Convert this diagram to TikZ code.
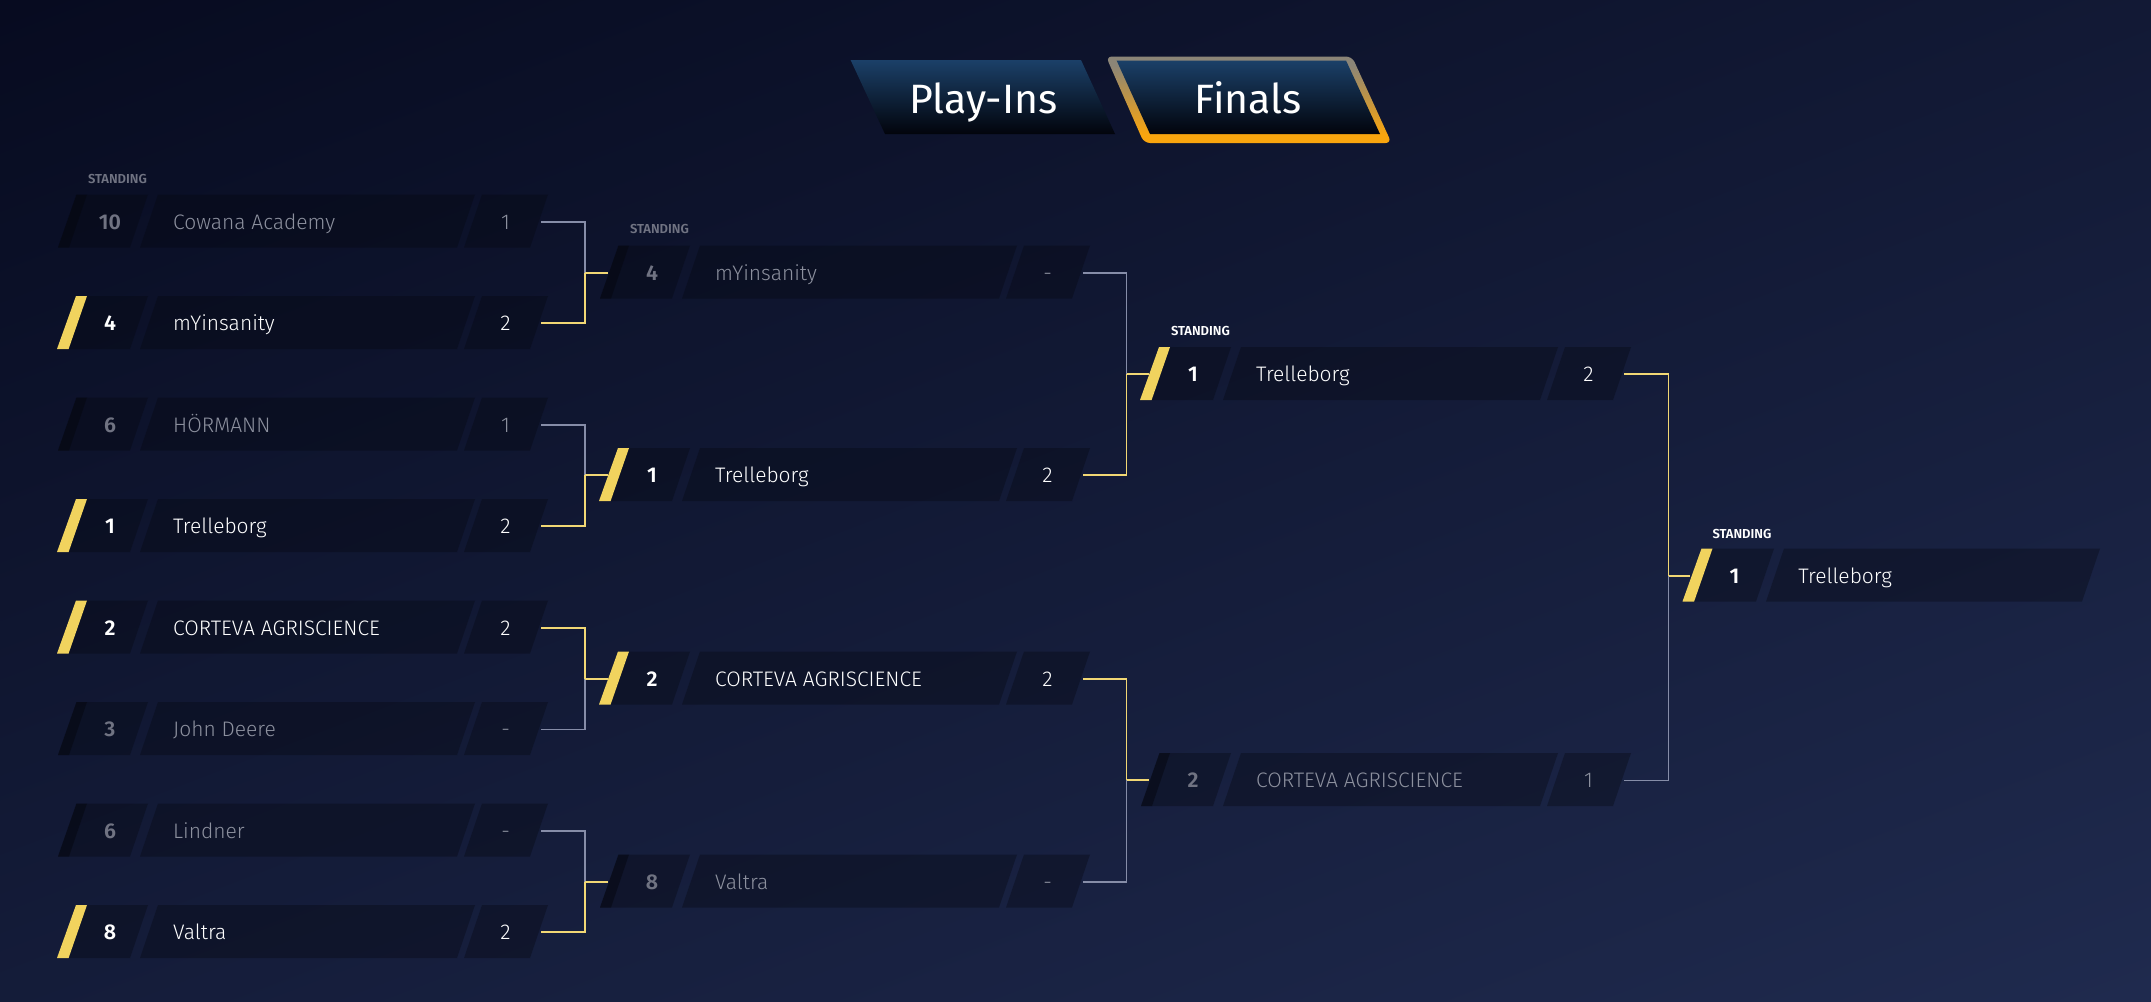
\documentclass[tikz,border=0pt]{standalone}
\usepackage{fontspec}
\setmainfont{Fira Sans Light}[BoldFont={Fira Sans SemiBold}]
\newfontfamily\tabfont{Fira Sans}
\definecolor{bgdark}{HTML}{070B20}
\definecolor{bglight}{HTML}{1F2A4E}
\definecolor{boxfill}{HTML}{05070F}
\definecolor{winbar}{HTML}{F1D35E}
\definecolor{winline}{HTML}{F1D774}
\definecolor{loseline}{HTML}{868DA8}
\definecolor{dimtext}{HTML}{8C909E}
\definecolor{dimnum}{HTML}{707382}
\definecolor{tabtop}{HTML}{1B4068}
\definecolor{tabbottom}{HTML}{02040C}
\definecolor{edgegray}{HTML}{8B8577}
\definecolor{edgeorange}{HTML}{F9A50E}
\pgfdeclareverticalshading{finalsedge}{100bp}{color(0bp)=(edgeorange); color(30bp)=(edgeorange); color(70bp)=(edgegray); color(100bp)=(edgegray)}
\pgfdeclareverticalshading{bgwash}{100bp}{color(0bp)=(bglight); color(32.24bp)=(bglight); color(67.76bp)=(bgdark); color(100bp)=(bgdark)}
\tikzset{
  slot/.style={fill=boxfill, fill opacity=0.35},
  rowtext/.style={inner sep=0pt, text height=7.4pt, text depth=0pt},
  winnum/.style={rowtext, text=white, font=\fontsize{10.7}{12}\bfseries, minimum width=44pt},
  losenum/.style={rowtext, text=dimnum, font=\fontsize{10.7}{12}\bfseries, minimum width=44pt},
  winteam/.style={rowtext, text=white, font=\fontsize{10.5}{12}\selectfont, anchor=west},
  loseteam/.style={rowtext, text=dimtext, font=\fontsize{10.5}{12}\selectfont, anchor=west},
  winscore/.style={rowtext, text=white, font=\fontsize{10.7}{12}\selectfont, minimum width=35pt},
  losescore/.style={rowtext, text=dimtext, font=\fontsize{10.7}{12}\selectfont, minimum width=35pt},
  winlabel/.style={text=white, font=\fontsize{6.5}{7}\bfseries, inner sep=0pt},
  loselabel/.style={text=dimnum, font=\fontsize{6.5}{7}\bfseries, inner sep=0pt},
  winedge/.style={draw=winline, line width=0.85pt},
  loseedge/.style={draw=loseline, line width=0.75pt},
  tabtext/.style={text=white, font=\fontsize{20.5}{25}\tabfont, inner sep=0pt, text height=14pt, text depth=0pt}
}
% #1 id, #2 x shift, #3 y, #4 standing, #5 team, #6 score, #7 win or lose
\newcommand{\teamrow}[7]{
  \begin{scope}[shift={(#2,#3)}]
    \fill[slot] (58,26.5) -- (76.5,-26.5) -- (148,-26.5) -- (130,26.5) -- cycle;
    \fill[slot] (140,26.5) -- (158,-26.5) -- (475,-26.5) -- (457,26.5) -- cycle;
    \fill[slot] (464,26.5) -- (482,-26.5) -- (548,-26.5) -- (530,26.5) -- cycle;
    \node[#7num] (num#1) at (110,0.8) {#4};
    \node[#7team] (team#1) at (172.8,0.8) {#5};
    \node[#7score] (score#1) at (505.6,0.8) {#6};
  \end{scope}
}
\newcommand{\winbar}[2]{
  \fill[winbar] ({#1+57},{#2+26.5}) -- ({#1+68.6},{#2+26.5}) -- ({#1+87},{#2-26.5}) -- ({#1+76},{#2-26.5}) -- cycle;
}
\newcommand{\losebar}[2]{
  \fill[boxfill, fill opacity=0.5] ({#1+58},{#2+26.5}) -- ({#1+69},{#2+26.5}) -- ({#1+87},{#2-26.5}) -- ({#1+76.5},{#2-26.5}) -- cycle;
}
\begin{document}
\begin{tikzpicture}[x=0.5pt, y=-0.5pt]
  \useasboundingbox (0,0) rectangle (2151,1001);
  \begin{scope}
    \clip (0,0) rectangle (2151,1001);
    \shade[shading=bgwash, shading angle=21] (-124.5,-699.5) rectangle (2275.5,1700.5);
  \end{scope}

  % tabs
  \shade[top color=tabtop, bottom color=tabbottom] (850.6,60) -- (1081,60) -- (1115,134) -- (885,134) -- cycle;
  \node[tabtext] (playins) at (983.5,99) {Play-Ins};
  \shade[shading=finalsedge, rounded corners=3pt] (1106,56.5) -- (1352,56.5) -- (1391.5,143) -- (1144,143) -- cycle;
  \shade[top color=tabtop, bottom color=tabbottom] (1116.6,60.5) -- (1346,60.5) -- (1380,134) -- (1150,134) -- cycle;
  \node[tabtext] (finals) at (1248,99) {Finals};

  % first round
  \teamrow{a}{0}{221}{10}{Cowana Academy}{1}{lose}
  \teamrow{b}{0}{322.5}{4}{mYinsanity}{2}{win}
  \teamrow{c}{0}{424}{6}{HÖRMANN}{1}{lose}
  \teamrow{d}{0}{525.5}{1}{Trelleborg}{2}{win}
  \teamrow{e}{0}{627}{2}{CORTEVA AGRISCIENCE}{2}{win}
  \teamrow{f}{0}{728.5}{3}{John Deere}{-}{lose}
  \teamrow{g}{0}{830}{6}{Lindner}{-}{lose}
  \teamrow{h}{0}{931.5}{8}{Valtra}{2}{win}
  % second round
  \teamrow{i}{542}{272}{4}{mYinsanity}{-}{lose}
  \teamrow{j}{542}{474.5}{1}{Trelleborg}{2}{win}
  \teamrow{k}{542}{678}{2}{CORTEVA AGRISCIENCE}{2}{win}
  \teamrow{l}{542}{881}{8}{Valtra}{-}{lose}
  % third round
  \teamrow{m}{1083}{373.5}{1}{Trelleborg}{2}{win}
  \teamrow{n}{1083}{779.5}{2}{CORTEVA AGRISCIENCE}{1}{lose}
  % final
  \fill[slot] (1684,601.5) -- (1702.5,548.5) -- (1774,548.5) -- (1756,601.5) -- cycle;
  \fill[slot] (1766,601.5) -- (1784,548.5) -- (2100,548.5) -- (2082,601.5) -- cycle;
  \node[winnum] (numo) at (1734.5,576) {1};
  \node[winteam] (teamo) at (1798,576) {Trelleborg};

  % standing labels
  \node[loselabel] (labela) at (117.5,178.5) {STANDING};
  \node[loselabel] (labeli) at (659.5,229) {STANDING};
  \node[winlabel] (labelm) at (1200.5,331) {STANDING};
  \node[winlabel] (labelo) at (1742,534) {STANDING};

  % brackets
  \foreach \up/\down/\next/\midx/\upstyle/\downstyle in {
    a/b/i/585/loseedge/winedge,
    c/d/j/585/loseedge/winedge,
    e/f/k/585/winedge/loseedge,
    g/h/l/585/loseedge/winedge,
    i/j/m/1126.5/loseedge/winedge,
    k/l/n/1126.5/winedge/loseedge,
    m/n/o/1668.5/winedge/loseedge} {
    \coordinate (mid\next) at (\midx,0 |- num\next.west);
    \draw[\upstyle] (score\up.east) -| (mid\next);
    \draw[\downstyle] (score\down.east) -| (mid\next);
    \draw[winedge] (mid\next) -- (num\next.west);
  }

  % bars on top of the stubs
  \winbar{0}{322.5}
  \winbar{0}{525.5}
  \winbar{0}{627}
  \winbar{0}{931.5}
  \winbar{542}{474.5}
  \winbar{542}{678}
  \winbar{1083}{373.5}
  \winbar{1625.5}{575}
  \losebar{0}{221}
  \losebar{0}{424}
  \losebar{0}{728.5}
  \losebar{0}{830}
  \losebar{542}{272}
  \losebar{542}{881}
  \losebar{1083}{779.5}
\end{tikzpicture}
\end{document}
